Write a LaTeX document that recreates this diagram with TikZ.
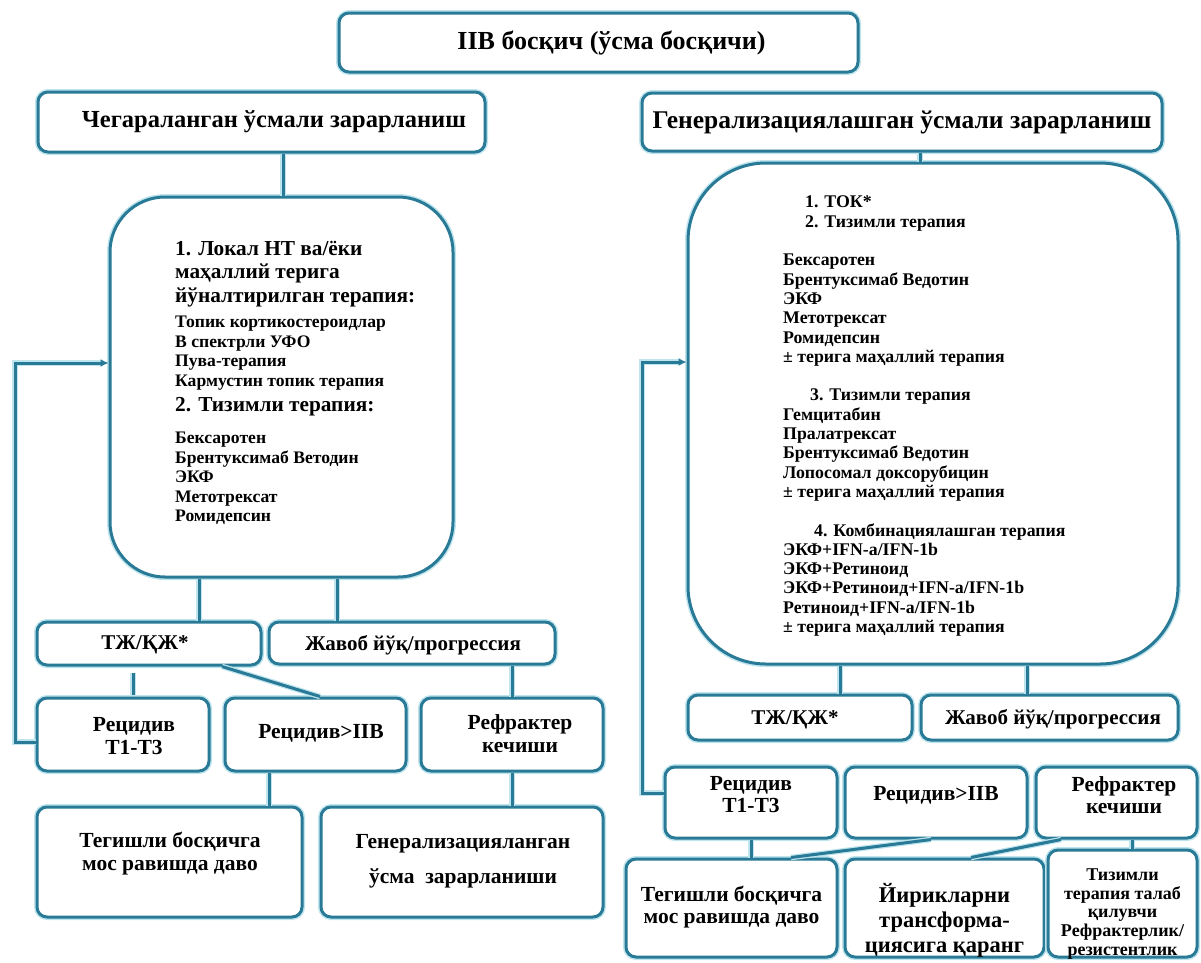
\documentclass[tikz,border=0pt]{standalone}
\usepackage{fontspec}
\setmainfont{Liberation Serif}
\usetikzlibrary{arrows.meta}
\definecolor{edge}{RGB}{40,122,150}
\definecolor{halo}{RGB}{190,228,238}
\begin{document}
\begin{tikzpicture}[x=1pt,y=-1pt,
  every node/.style={font=\bfseries},
  box/.style={draw=edge, line width=3pt, rounded corners=10pt, fill=white,
    inner sep=0pt, align=center, preaction={draw=halo, line width=6pt}},
  bigbox/.style={box, rounded corners=#1},
  conn/.style={draw=edge, line width=3pt, preaction={draw=halo, line width=5.5pt}},
  arr/.style={conn, -{Latex[length=8pt,width=8pt]}},
  fhead/.style={font=\bfseries\fontsize{25.5}{30}\selectfont},
  txt/.style={align=center, inner sep=0pt},
  fl/.style={txt, font=\bfseries\fontsize{21.5}{23}\selectfont},
  flr/.style={txt, font=\bfseries\fontsize{21.5}{22}\selectfont},
  fm/.style={txt, font=\bfseries\fontsize{21}{24}\selectfont},
]
\useasboundingbox (0,0) rectangle (1201,962);
\clip (0,0) rectangle (1201,962);

% coordinates for connector positions
\coordinate (cx199) at (199,0);
\coordinate (cx337) at (337,0);
\coordinate (cx133) at (133,0);
\coordinate (cx269) at (269,0);
\coordinate (cx283) at (283,0);
\coordinate (cx920) at (920,0);
\coordinate (cx840) at (840,0);
\coordinate (cx1027) at (1027,0);
\coordinate (lb) at (15,742);
\coordinate (la) at (15,363);
\coordinate (rb) at (642,793);
\coordinate (ra) at (642,362);

% ---- title and headers ----
\node[box, minimum width=519pt, minimum height=59pt, font=\bfseries\fontsize{26}{30}\selectfont] (title) at (598.5,42.5) {\hspace*{26pt}IIВ босқич (ўсма босқичи)};
\node[box, minimum width=447pt, minimum height=60pt] (hl) at (261.5,122) {};
\node[txt, font=\bfseries\fontsize{24.5}{30}\selectfont] (hlt) at (274,122) {Чегараланган ўсмали зарарланиш};
\node[box, fhead, minimum width=520pt, minimum height=58pt] (hr) at (902,122) {Генерализациялашган ўсмали зарарланиш};

% ---- big boxes ----
\node[bigbox=55pt, minimum width=343pt, minimum height=380pt] (bigL) at (281.5,387) {};
\node[bigbox=78pt, minimum width=490pt, minimum height=501pt] (bigR) at (933,413.5) {};

% ---- left lower boxes ----
\node[box, minimum width=224pt, minimum height=43pt] (tjL) at (149,643.5) {};
\node[box, minimum width=286pt, minimum height=42pt] (jvL) at (412,643) {};
\node[box, minimum width=172pt, minimum height=73pt] (rc1L) at (123,734.5) {};
\node[box, minimum width=181pt, minimum height=73pt] (rc2L) at (315.5,734.5) {};
\node[box, minimum width=182pt, minimum height=73pt] (rfL) at (512,734.5) {};
\node[box, minimum width=265pt, minimum height=110pt] (tgL) at (169.5,862) {};
\node[box, minimum width=282pt, minimum height=110pt] (gnL) at (462,862) {};

\node[fm] (tjLt) at (145,645) {ТЖ/ҚЖ*};
\node[fm] (jvLt) at (413,645) {Жавоб йўқ/прогрессия};
\node[fl] (rc1Lt) at (134,736) {Рецидив\\T1-T3};
\node[fl] (rc2Lt) at (321,733) {Рецидив>IIВ};
\node[fl] (rfLt) at (520,734) {Рефрактер\\кечиши};
\node[fl] (tgLt) at (170,854) {Тегишли босқичга\\мос равишда даво};
\node[txt, font=\bfseries\fontsize{21.5}{35}\selectfont] (gnLt) at (463,861) {Генерализацияланган\\ўсма\ \ зарарланиши};

% ---- right lower boxes ----
\node[box, minimum width=224pt, minimum height=45pt] (tjR) at (800,717.5) {};
\node[box, minimum width=257pt, minimum height=45pt] (jvR) at (1049.5,717.5) {};
\node[box, minimum width=172pt, minimum height=71pt] (rc1R) at (751,802.5) {};
\node[box, minimum width=182pt, minimum height=71pt] (rc2R) at (936,802.5) {};
\node[box, minimum width=161pt, minimum height=71pt] (rfR) at (1116.5,802.5) {};
\node[box, minimum width=211pt, minimum height=98pt] (tgR) at (731.5,908) {};
\node[box, minimum width=199pt, minimum height=98pt] (yrR) at (944.5,908) {};
\node[box, minimum width=149pt, minimum height=107pt] (tzR) at (1122.5,903.5) {};

\node[fm] (tjRt) at (795,719.5) {ТЖ/ҚЖ*};
\node[fm] (jvRt) at (1053,719) {Жавоб йўқ/прогрессия};
\node[flr] (rc1Rt) at (751,795) {Рецидив\\T1-T3};
\node[flr] (rc2Rt) at (936,795) {Рецидив>IIВ};
\node[flr] (rfRt) at (1124,795) {Рефрактер\\кечиши};
\node[flr] (tgRt) at (731.5,907) {Тегишли босқичга\\мос равишда даво};
\node[txt, font=\bfseries\fontsize{22.5}{25}\selectfont] (yrRt) at (944.5,920) {Йирикларни\\трансформа-\\циясига қаранг};
\node[txt, font=\bfseries\fontsize{18}{18.75}\selectfont] (tzRt) at (1122.5,914) {Тизимли\\терапия талаб\\қилувчи\\Рефрактерлик/\\резистентлик};

% ---- text inside the big boxes ----
\node[anchor=north west, align=left, inner sep=0pt, font=\bfseries\fontsize{17.6}{19.5}\selectfont] (tL) at (175,241) {%
{\fontsize{21.3}{24}\selectfont 1. Локал НТ ва/ёки}\\[3.5pt]
{\fontsize{21.3}{24}\selectfont маҳаллий терига}\\[4.5pt]
{\fontsize{21.3}{24}\selectfont йўналтирилган терапия:}\\[6pt]
Топик кортикостероидлар\\
В спектрли УФО\\
Пува-терапия\\
Кармустин топик терапия\\[5.5pt]
{\fontsize{21.3}{24}\selectfont 2. Тизимли терапия:}\\[13pt]
Бексаротен\\
Брентуксимаб Ветодин\\
ЭКФ\\
Метотрексат\\
Ромидепсин};

\node[anchor=north west, align=left, inner sep=0pt, font=\bfseries\fontsize{17.8}{19.3}\selectfont] (tR) at (783,196) {%
\hspace*{22pt}1. ТОК*\\
\hspace*{22pt}2. Тизимли терапия\\[19.3pt]
Бексаротен\\
Брентуксимаб Ведотин\\
ЭКФ\\
Метотрексат\\
Ромидепсин\\
± терига маҳаллий терапия\\[19.3pt]
\hspace*{27pt}3. Тизимли терапия\\
Гемцитабин\\
Пралатрексат\\
Брентуксимаб Ведотин\\
Лопосомал доксорубицин\\
± терига маҳаллий терапия\\[19.3pt]
\hspace*{31pt}4. Комбинациялашган терапия\\
ЭКФ+IFN-a/IFN-1b\\
ЭКФ+Ретиноид\\
ЭКФ+Ретиноид+IFN-a/IFN-1b\\
Ретиноид+IFN-a/IFN-1b\\
± терига маҳаллий терапия};

% ---- connectors ----
\draw[conn] (hl.south -| cx283) -- (bigL.north -| cx283);
\draw[conn] (hr.south -| cx920) -- (bigR.north -| cx920);
\draw[conn] (bigL.south -| cx199) -- (tjL.north -| cx199);
\draw[conn] (bigL.south -| cx337) -- (jvL.north -| cx337);
\draw[conn] ([yshift=-6pt]tjL.south -| cx133) -- ([yshift=2pt]rc1L.north -| cx133);
\draw[conn] ([xshift=73pt]tjL.south) -- ([xshift=4.5pt]rc2L.north);
\draw[conn] (jvL.south -| rfL.north) -- (rfL.north);
\draw[conn] (rc2L.south -| cx269) -- (tgL.north -| cx269);
\draw[conn] (rfL.south) -- (gnL.north -| rfL.south);
\draw[arr] (rc1L.west |- lb) -- (lb) -- (la) -- (la -| bigL.west);

\draw[conn] (bigR.south -| cx840) -- (tjR.north -| cx840);
\draw[conn] (bigR.south -| cx1027) -- (jvR.north -| cx1027);
\draw[arr] (rc1R.west |- rb) -- (rb) -- (ra) -- (ra -| bigR.west);
\draw[conn] (rc1R.south) -- (rc1R.south |- tgR.north);
\draw[conn] ([xshift=-5pt]rc2R.south) -- ([xshift=59.5pt]tgR.north);
\draw[conn] ([xshift=-55.5pt]rfR.south) -- ([xshift=26.5pt]yrR.north);
\draw[conn] ([xshift=15.5pt]rfR.south) -- ([xshift=15.5pt]rfR.south |- tzR.north);
\end{tikzpicture}
\end{document}
